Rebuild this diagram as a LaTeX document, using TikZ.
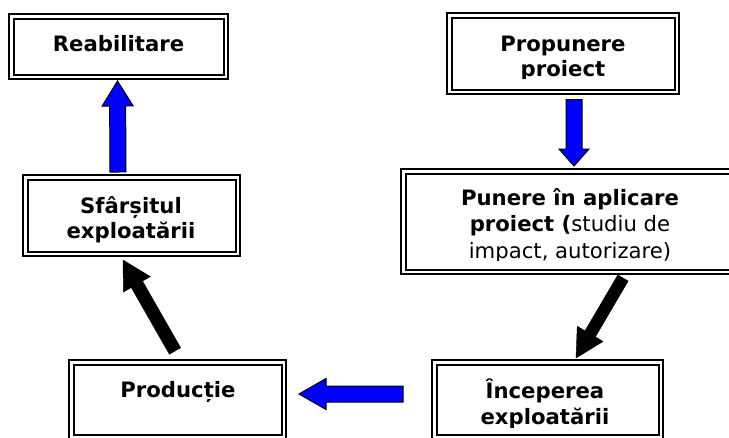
\documentclass[tikz,border=0pt]{standalone}
\usepackage{fontspec}
\setmainfont{DejaVu Sans}
\usetikzlibrary{calc}
\definecolor{arrowblue}{RGB}{0,0,255}

\tikzset{
  stagebox/.style={draw=black, line width=2pt, double=white, double distance=2.5pt,
    inner sep=0pt, rectangle},
  boxtext/.style={anchor=base, inner sep=0pt, font=\fontsize{21.2}{26}\selectfont\bfseries},
  bluearrow/.style={fill=arrowblue, draw=black, line width=1pt, line join=miter},
  blackarrow/.style={fill=black, draw=black, line width=0.4pt, line join=miter},
}

% Block arrow: #1 style, #2 tail, #3 tip, #4 half shaft width,
% #5 half head width, #6 head length
\newcommand{\blockarrow}[6]{%
  \path[#1] let \p1=(#2), \p2=(#3),
      \n1={atan2(\y2-\y1,\x2-\x1)},
      \n2={veclen(\x2-\x1,\y2-\y1)} in
    ([shift={(\p1)},rotate=\n1]0pt,-#4)
    -- ([shift={(\p1)},rotate=\n1]{\n2-#6},-#4)
    -- ([shift={(\p1)},rotate=\n1]{\n2-#6},-#5)
    -- ([shift={(\p1)},rotate=\n1]\n2,0pt)
    -- ([shift={(\p1)},rotate=\n1]{\n2-#6},#5)
    -- ([shift={(\p1)},rotate=\n1]{\n2-#6},#4)
    -- ([shift={(\p1)},rotate=\n1]0pt,#4)
    -- cycle;
}

\begin{document}
\begin{tikzpicture}[x=1pt,y=-1pt]
\useasboundingbox (0,0) rectangle (729,437);

% stage boxes (double frame)
\node[stagebox, minimum width=214.5pt, minimum height=60.5pt] (reab) at (118.5,46.5) {};
\node[stagebox, minimum width=212.5pt, minimum height=76.5pt] (sfarsit) at (131.5,215.5) {};
\node[stagebox, minimum width=227.5pt, minimum height=76.5pt] (prop) at (563,53.5) {};
\node[stagebox, minimum width=338.5pt, minimum height=100.5pt] (punere) at (572.5,221.5) {};
\node[stagebox, minimum width=226.5pt, minimum height=74.5pt] (incep) at (547.5,399.5) {};
\node[stagebox, minimum width=212.5pt, minimum height=74.5pt] (prod) at (177.5,399.5) {};

% box texts
\node[boxtext] (reabT) at (118.5,51.5) {Reabilitare};
\node[boxtext] (sfarsitT1) at (131,213.5) {Sfârșitul};
\node[boxtext] (sfarsitT2) at (131,238) {exploatării};
\node[boxtext] (prodT) at (178,397) {Producție};

\begin{scope}
  \clip (prop.north west) rectangle ($(prop.south east)+(0,-14.25)$);
  \node[boxtext] (propT1) at (563,51.5) {Propunere};
  \node[boxtext] (propT2) at (563,76.5) {proiect};
\end{scope}

\begin{scope}
  \clip (punere.north west) rectangle ($(punere.south east)+(0,-12.25)$);
  \node[boxtext] (punereT1) at (570,205) {Punere în aplicare};
  \node[boxtext] (punereT2) at (570,231.5) {proiect (\mdseries studiu de};
  \node[boxtext] (punereT3) at (570,258) {\mdseries impact, autorizare)};
\end{scope}

\begin{scope}
  \clip (incep.north west) rectangle ($(incep.south east)+(0,-10.75)$);
  \node[boxtext] (incepT1) at (545,398.5) {Începerea};
  \node[boxtext] (incepT2) at (545,424) {exploatării};
\end{scope}

% arrow end points
\coordinate (a1s) at ($(sfarsit.north)+(-13.5,-4.25)$);
\coordinate (a1e) at ($(reab.south)+(-1,3.25)$);
\coordinate (a2s) at ($(prop.south)+(11,6.75)$);
\coordinate (a2e) at ($(punere.north)+(1.5,-4.25)$);
\coordinate (a3s) at ($(punere.south)+(50.5,5.25)$);
\coordinate (a3e) at ($(incep.north)+(28.5,-3.25)$);
\coordinate (a4s) at ($(incep.west)+(-30.25,-5.5)$);
\coordinate (a4e) at ($(prod.east)+(14.25,-5.5)$);
\coordinate (a5s) at ($(prod.north)+(-2.5,-10.25)$);
\coordinate (a5e) at ($(sfarsit.south)+(-8.5,5.25)$);

% arrows
\blockarrow{bluearrow}{a1s}{a1e}{8pt}{15.5pt}{25pt}
\blockarrow{bluearrow}{a2s}{a2e}{8pt}{15pt}{17pt}
\blockarrow{blackarrow}{a3s}{a3e}{6pt}{15pt}{28pt}
\blockarrow{bluearrow}{a4s}{a4e}{8pt}{15.5pt}{27pt}
\blockarrow{blackarrow}{a5s}{a5e}{6.5pt}{15.5pt}{28pt}
\end{tikzpicture}
\end{document}
